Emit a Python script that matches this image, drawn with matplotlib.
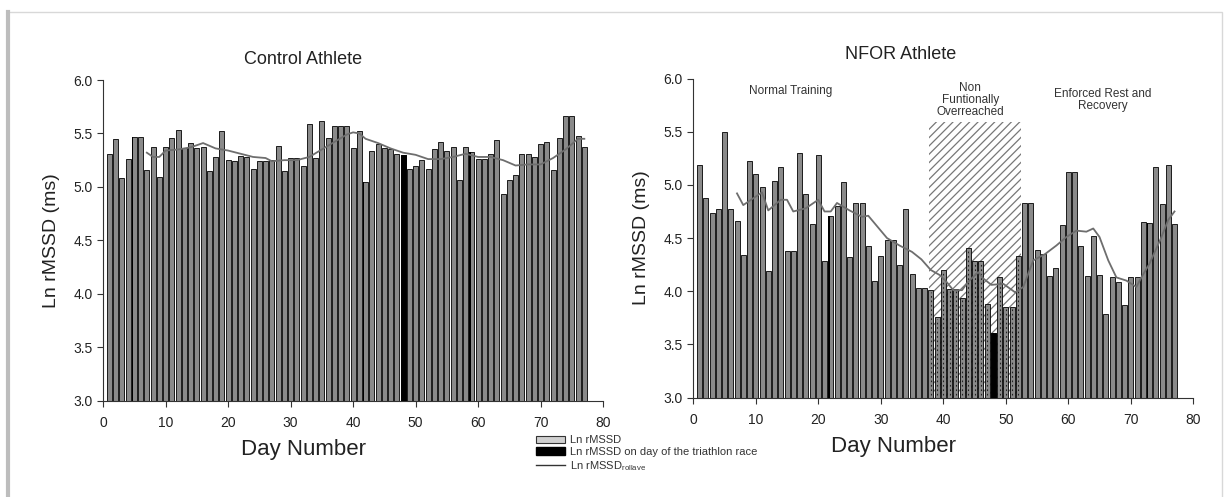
import numpy as np
import matplotlib
matplotlib.use('Agg')
import matplotlib.pyplot as plt
from matplotlib.patches import Rectangle
from matplotlib.lines import Line2D

plt.rcParams['font.family'] = ['Liberation Sans', 'DejaVu Sans']
plt.rcParams['hatch.linewidth'] = 0.9

# data
days = np.arange(1, 78)

control_vals = [5.31, 5.45, 5.08, 5.26, 5.47, 5.47, 5.16, 5.37, 5.09, 5.37,
                5.46, 5.53, 5.36, 5.41, 5.36, 5.37, 5.15, 5.28, 5.52, 5.25,
                5.24, 5.29, 5.28, 5.17, 5.24, 5.24, 5.25, 5.38, 5.15, 5.27,
                5.27, 5.20, 5.59, 5.27, 5.62, 5.46, 5.57, 5.57, 5.57, 5.36,
                5.52, 5.05, 5.34, 5.40, 5.36, 5.35, 5.31, 5.30, 5.17, 5.20,
                5.25, 5.17, 5.35, 5.42, 5.34, 5.37, 5.06, 5.37, 5.33, 5.26,
                5.26, 5.31, 5.44, 4.93, 5.06, 5.11, 5.31, 5.31, 5.28, 5.40,
                5.42, 5.16, 5.46, 5.66, 5.66, 5.48, 5.37]
control_race = [5, 42, 59]
control_race_full = [48]

control_roll_days = [7, 8, 9, 10, 12, 14, 16, 18, 20, 22, 24, 26, 27, 29, 31, 33,
                     35, 37, 39, 40, 41, 42, 44, 46, 48, 50, 52, 54, 56, 58, 60,
                     62, 64, 66, 68, 70, 72, 74, 76, 77]
control_roll = [5.32, 5.28, 5.28, 5.34, 5.35, 5.37, 5.41, 5.36, 5.34, 5.31, 5.28,
                5.27, 5.24, 5.25, 5.25, 5.28, 5.35, 5.42, 5.49, 5.51, 5.50, 5.45,
                5.41, 5.36, 5.32, 5.30, 5.26, 5.26, 5.28, 5.31, 5.28, 5.28, 5.25,
                5.20, 5.21, 5.21, 5.27, 5.35, 5.45, 5.45]

nfor_vals = [5.19, 4.88, 4.74, 4.77, 5.50, 4.77, 4.66, 4.34, 5.22, 5.10,
             4.98, 4.19, 5.04, 5.17, 4.38, 4.38, 5.30, 4.91, 4.63, 5.28,
             4.28, 4.71, 4.80, 5.03, 4.32, 4.83, 4.83, 4.43, 4.10, 4.33,
             4.48, 4.48, 4.25, 4.77, 4.16, 4.03, 4.03, 4.01, 3.76, 4.20,
             4.02, 4.02, 3.94, 4.41, 4.28, 4.28, 3.88, 3.61, 4.13, 3.85,
             3.85, 4.33, 4.83, 4.83, 4.39, 4.35, 4.14, 4.22, 4.62, 5.12,
             5.12, 4.43, 4.14, 4.52, 4.15, 3.79, 4.13, 4.09, 3.87, 4.13,
             4.13, 4.65, 4.64, 5.17, 4.82, 5.19, 4.63]
nfor_race = [22, 73]
nfor_race_full = [48]
nfor_phase2 = (38, 52)  # days with dotted bars

nfor_roll_days = [7, 8, 10, 11, 12, 14, 15, 16, 18, 20, 21, 22, 23, 25, 27, 28,
                  30, 31, 33, 35, 36.5, 38, 39.5, 40.5, 41.6, 43, 44, 45.6, 46.4,
                  47.7, 49.6, 51.5, 52.8, 54.4, 56.3, 58.1, 59.7, 61.3, 62.9, 64,
                  65, 66.4, 67.7, 69.3, 70.9, 71.7, 73, 74.7, 76, 77]
nfor_roll = [4.92, 4.81, 4.89, 4.93, 4.76, 4.86, 4.86, 4.75, 4.78, 4.86, 4.75,
             4.75, 4.83, 4.76, 4.70, 4.71, 4.57, 4.50, 4.43, 4.37, 4.30, 4.20,
             4.15, 4.09, 4.01, 4.01, 4.09, 4.18, 4.12, 4.06, 4.07, 3.99, 4.04,
             4.29, 4.35, 4.43, 4.51, 4.57, 4.56, 4.59, 4.51, 4.29, 4.13, 4.10,
             4.04, 4.13, 4.26, 4.48, 4.67, 4.75]

BAR_C = '#8a8a8a'
LINE_C = '#6e6e6e'


def draw_panel(ax, vals, race, race_full, roll_d, roll_v):
  vals = np.array(vals)
  ax.bar(days, vals - 3.0, bottom=3.0, width=0.8, color=BAR_C,
         edgecolor='black', linewidth=0.6, zorder=2)
  for d in race:
    ax.bar(d - 0.3, vals[d - 1] - 3.0, bottom=3.0, width=0.22,
           color='black', linewidth=0, zorder=3)
  for d in race_full:
    ax.bar(d, vals[d - 1] - 3.0, bottom=3.0, width=0.8,
           color='black', edgecolor='black', linewidth=0.6, zorder=3)
  ax.plot(roll_d, roll_v, color=LINE_C, linewidth=1.3, zorder=4)

  ax.set_xlim(0, 80)
  ax.set_ylim(3.0, 6.0)
  ax.set_xticks(np.arange(0, 81, 10))
  ax.set_yticks(np.arange(3.0, 6.01, 0.5))
  ax.set_yticklabels([f'{v:.1f}' for v in np.arange(3.0, 6.01, 0.5)])
  ax.spines['top'].set_visible(False)
  ax.spines['right'].set_visible(False)
  ax.spines['left'].set_color('#333333')
  ax.spines['bottom'].set_color('#333333')
  ax.tick_params(axis='both', labelsize=10, length=4, color='#333333',
                 labelcolor='#222222')
  ax.tick_params(axis='x', pad=7)
  ax.set_ylabel('Ln rMSSD (ms)', fontsize=14, color='#222222', labelpad=10)
  ax.set_xlabel('Day Number', fontsize=16, color='#222222', labelpad=6)
  ax.xaxis.set_label_coords(0.4, -0.12)


fig = plt.figure(figsize=(12.27, 4.97), dpi=100)

# card frame
fig.patches.append(Rectangle((0.006, -0.02), 0.99, 0.996, transform=fig.transFigure,
                             facecolor='none', edgecolor='#d8d8d8', linewidth=1.0))
fig.add_artist(Line2D([0.0065, 0.0065], [0.0, 0.975], transform=fig.transFigure,
                      color='#bdbdbd', linewidth=3.0))

ax1 = fig.add_axes([0.084, 0.194, 0.4075, 0.645])
ax2 = fig.add_axes([0.565, 0.200, 0.4075, 0.642])

draw_panel(ax1, control_vals, control_race, control_race_full,
           control_roll_days, control_roll)
ax1.text(0.4, 1.065, 'Control Athlete', transform=ax1.transAxes, ha='center',
         va='center', fontsize=13, color='#222222')

# NFOR panel
ax2.add_patch(Rectangle((37.7, 3.0), 14.7, 2.59, facecolor='none', edgecolor='#777777',
                        hatch='////', linewidth=0, zorder=1))
draw_panel(ax2, nfor_vals, nfor_race, nfor_race_full, nfor_roll_days, nfor_roll)
lo, hi = nfor_phase2
for d in range(lo, hi + 1):
  if d in nfor_race_full:
    continue
  ax2.vlines(d, 3.02, nfor_vals[d - 1] - 0.02, colors='#222222', linewidth=0.8,
             linestyles=(0, (1.5, 2.5)), zorder=3)
ax2.text(0.415, 1.075, 'NFOR Athlete', transform=ax2.transAxes, ha='center',
         va='center', fontsize=13, color='#222222')
ax2.text(15.5, 5.88, 'Normal Training', ha='center', va='center', fontsize=8.5,
         color='#333333')
ax2.text(44.3, 5.80, 'Non\nFuntionally\nOverreached', ha='center', va='center',
         fontsize=8.5, color='#333333', linespacing=1.0)
ax2.text(65.5, 5.80, 'Enforced Rest and\nRecovery', ha='center', va='center',
         fontsize=8.5, color='#333333', linespacing=1.0)

# legend between the panels
handles = [Rectangle((0, 0), 1, 1, facecolor='#d0d0d0', edgecolor='#333333', linewidth=0.8),
           Rectangle((0, 0), 1, 1, facecolor='black', edgecolor='black'),
           Line2D([0], [0], color='#333333', linewidth=1.0)]
labels = ['Ln rMSSD', 'Ln rMSSD on day of the triathlon race',
          r'Ln rMSSD$_{\mathregular{rollave}}$']
fig.legend(handles, labels, loc='upper left', bbox_to_anchor=(0.432, 0.135),
           frameon=False, fontsize=8, handlelength=2.6, handleheight=0.7,
           labelspacing=0.15, borderpad=0, handletextpad=0.5, labelcolor='#333333')

fig.savefig('out.png', dpi=100)
